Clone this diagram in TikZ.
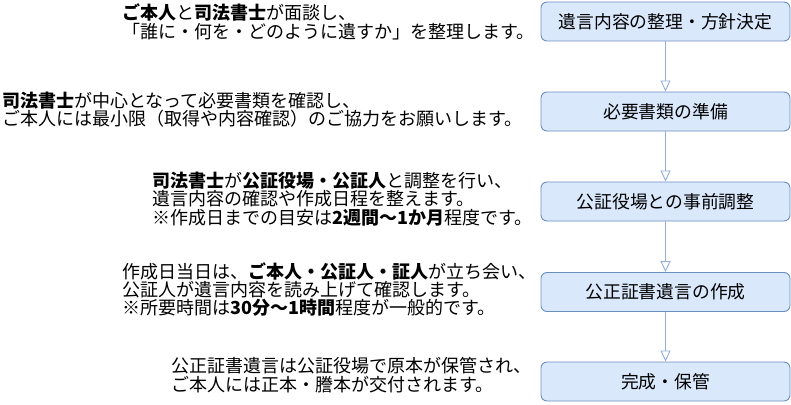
\documentclass[tikz,border=0pt]{standalone}
\usepackage{fontspec}
\setmainfont{Noto Sans CJK JP}
\usetikzlibrary{arrows.meta}
\definecolor{boxfill}{HTML}{DAE8FC}
\definecolor{boxline}{HTML}{6C8EBF}
\definecolor{flowline}{HTML}{94AED8}
\tikzset{
	stepbox/.style={draw=boxline, fill=boxfill, line width=0.9pt, rounded corners=6pt,
		minimum width=249pt, minimum height=39pt, inner sep=0pt, font=\fontsize{17.8}{18.3}\selectfont},
	desc/.style={anchor=west, align=left, inner sep=0pt, font=\fontsize{18}{18.4}\selectfont},
	flow/.style={draw=flowline, line width=1.1pt, -{Triangle[length=11pt, width=10pt, fill=white, line width=0.9pt]}}
}
\begin{document}
\begin{tikzpicture}[x=1pt, y=-1pt]
		%%%%% START %%%%%
		\useasboundingbox (0, 0) rectangle (791, 404);
		
		\node[stepbox] (s1) at (665.5, 21.5) {遺言内容の整理・方針決定};
		\node[stepbox] (s2) at (665.5, 111.5) {必要書類の準備};
		\node[stepbox] (s3) at (665.5, 201.5) {公証役場との事前調整};
		\node[stepbox] (s4) at (665.5, 292) {公正証書遺言の作成};
		\node[stepbox] (s5) at (665.5, 381.5) {完成・保管};
		
		\draw[flow] (s1) -- (s2);
		\draw[flow] (s2) -- (s3);
		\draw[flow] (s3) -- (s4);
		\draw[flow] (s4) -- (s5);
		
		\node[desc] (d1) at (122, 22) {\textbf{ご本人}と\textbf{司法書士}が面談し、\\「誰に・何を・どのように遺すか」を整理します。};
		\node[desc] (d2) at (2, 109.5) {\textbf{司法書士}が中心となって必要書類を確認し、\\ご本人には最小限（取得や内容確認）のご協力をお願いします。};
		\node[desc] (d3) at (152, 199) {\textbf{司法書士}が\textbf{公証役場・公証人}と調整を行い、\\遺言内容の確認や作成日程を整えます。\\※作成日までの目安は\textbf{2週間〜1か月}程度です。};
		\node[desc] (d4) at (122, 289.5) {作成日当日は、\textbf{ご本人・公証人・証人}が立ち会い、\\公証人が遺言内容を読み上げて確認します。\\※所要時間は\textbf{30分〜1時間}程度が一般的です。};
		\node[desc] (d5) at (171, 375) {公正証書遺言は公証役場で原本が保管され、\\ご本人には正本・謄本が交付されます。};
		
		%%%%% END %%%%%
\end{tikzpicture}
\end{document}
